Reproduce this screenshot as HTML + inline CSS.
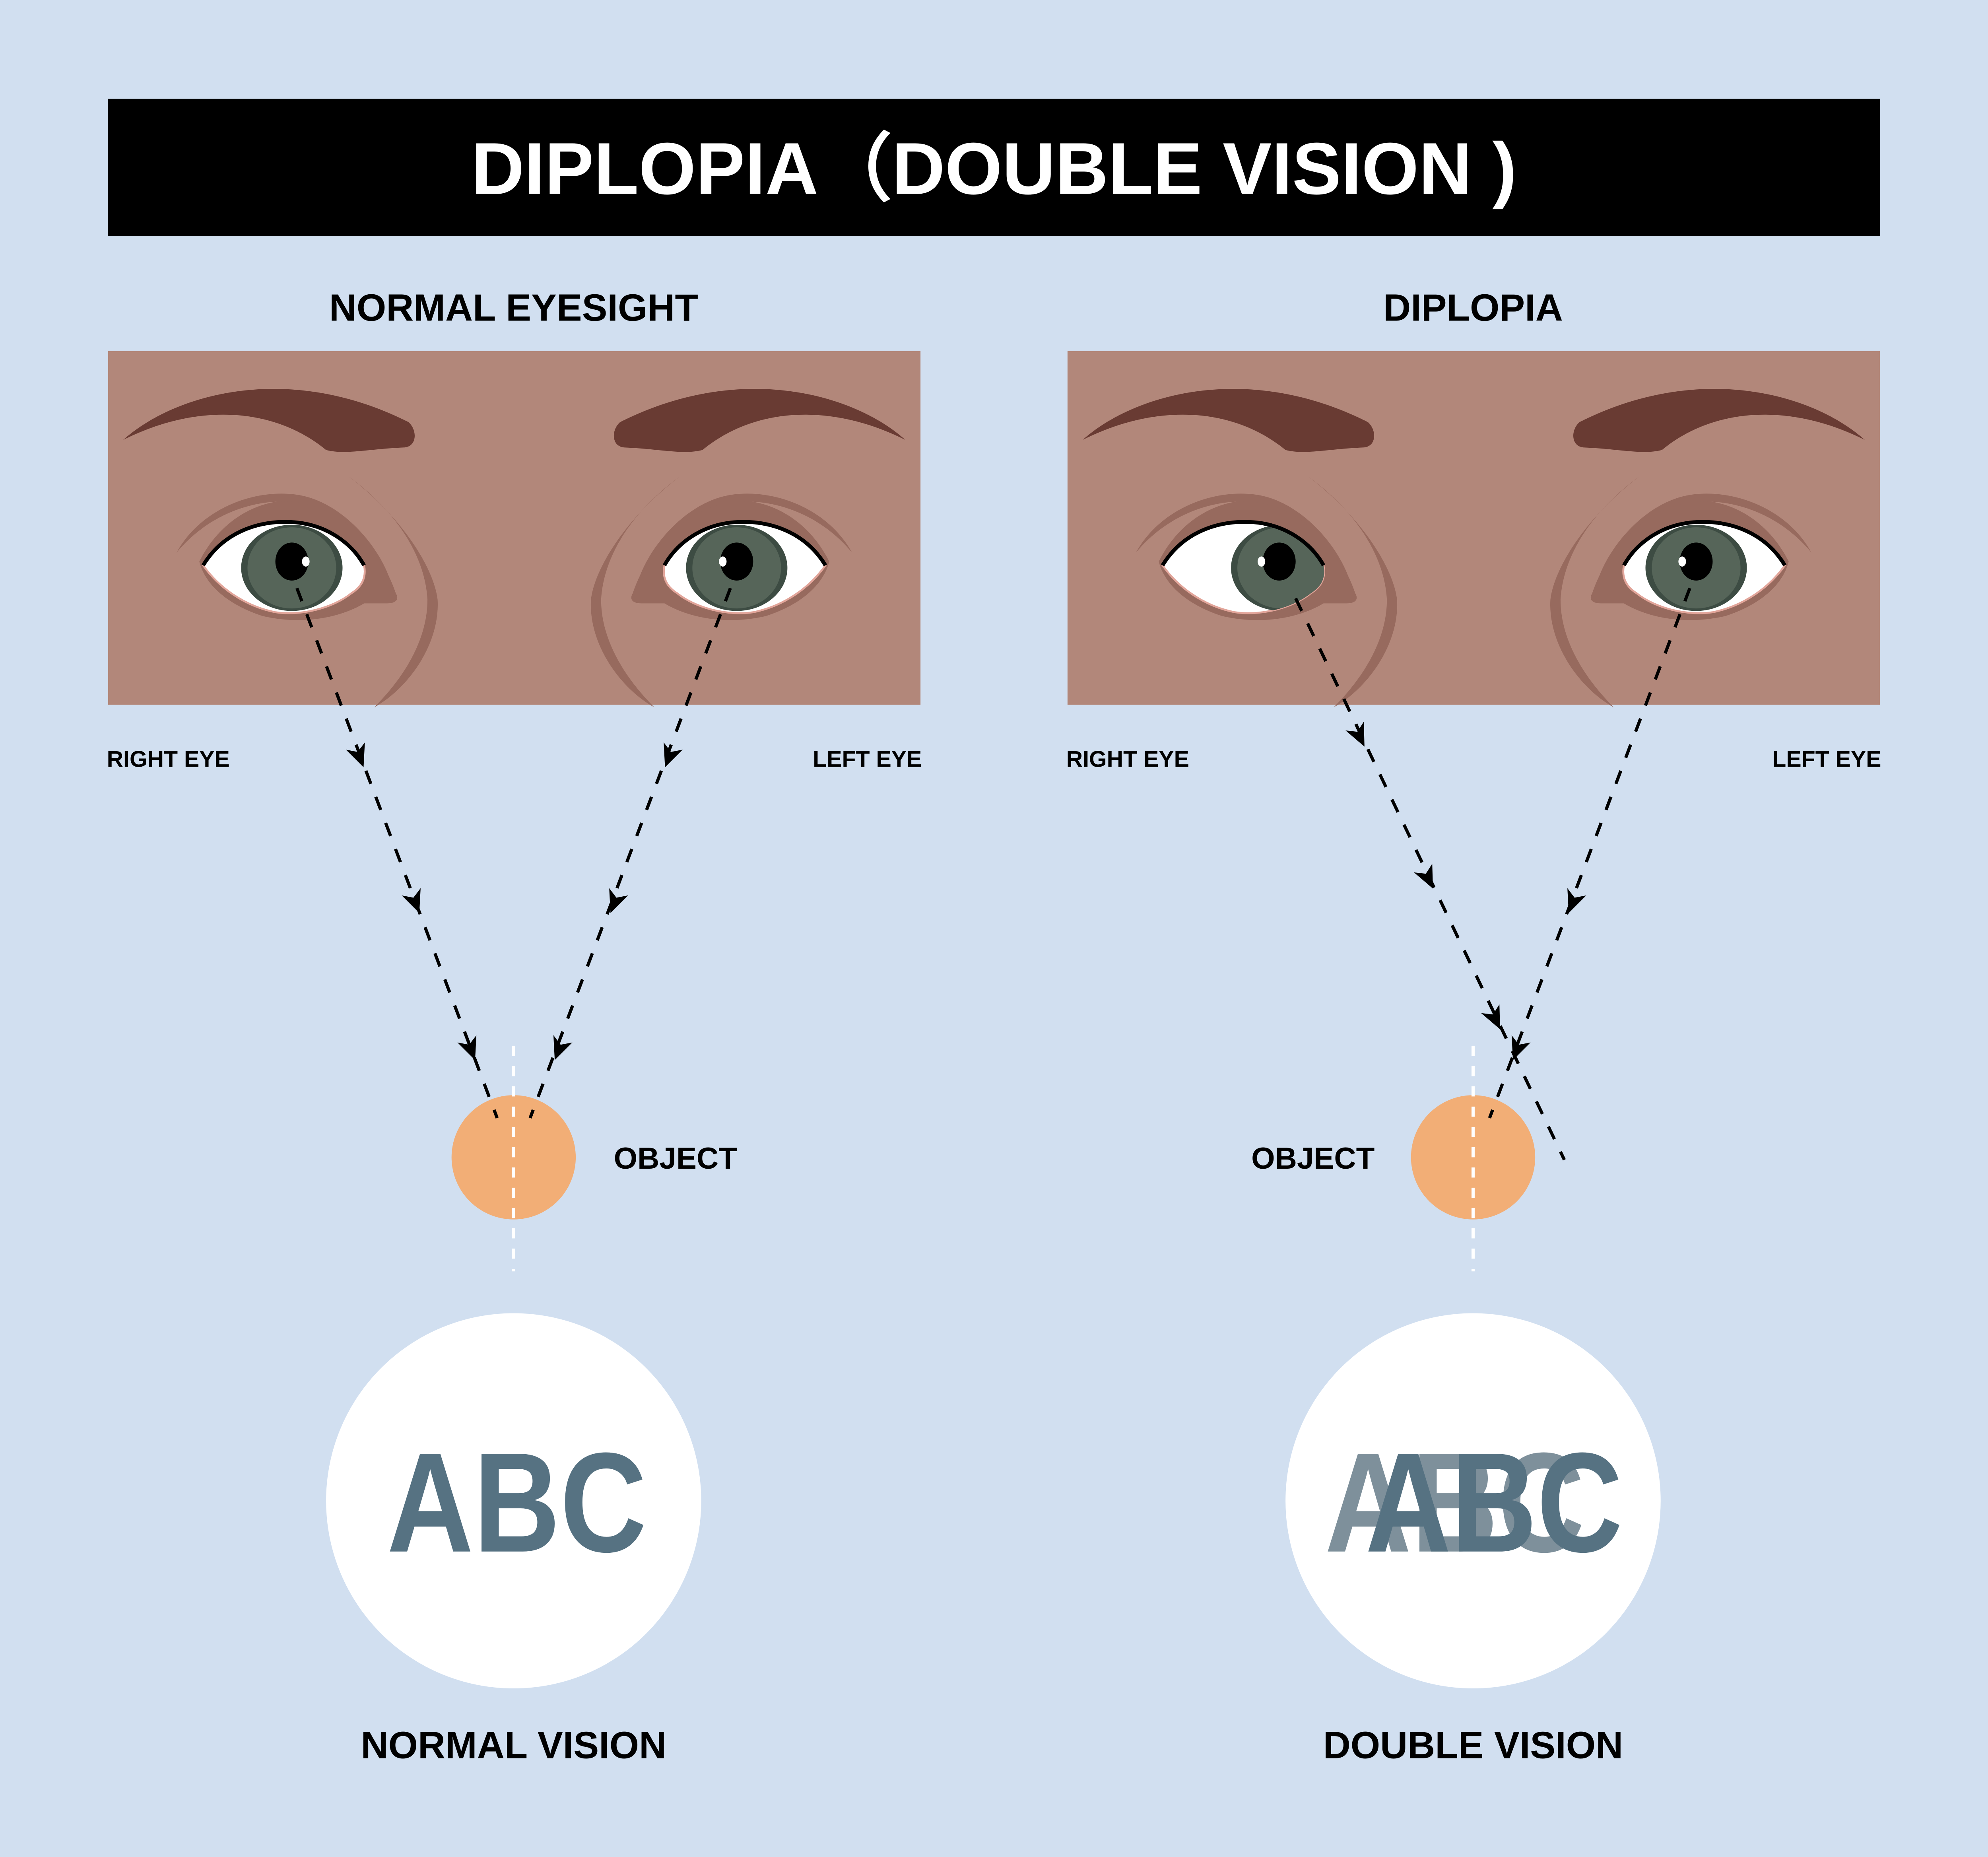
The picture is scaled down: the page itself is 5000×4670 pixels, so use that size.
<!DOCTYPE html>
<html><head><meta charset="utf-8"><style>
html,body{margin:0;padding:0;background:#d1dff0}
svg{display:block}
text{font-family:"Liberation Sans",sans-serif;font-weight:bold}
</style></head><body>
<svg width="5000" height="4670" viewBox="0 0 1568 1465" xmlns="http://www.w3.org/2000/svg">
<defs>
<g id="brow">
<path d="M0,0 C40,-36 130,-62 225,-14 C232,-8 232,5 222,6 C195,7 175,12 160,8 C120,-25 60,-30 0,0 Z" fill="#693b33"/>
</g>
<g id="eyeR">
<path d="M-70,-5 C-50,-45 -10,-60 20,-50 C50,-40 75,-10 85,20 C88,25 85,28 78,28 L60,28 C40,40 10,45 -20,38 C-45,30 -65,15 -70,-5 Z" fill="#976a5e"/>
<path d="M-88,-12 C-70,-45 -30,-62 5,-58 C40,-54 70,-20 80,8 C65,-22 40,-48 5,-52 C-30,-55 -65,-40 -88,-12 Z" fill="#976a5e"/>
<path d="M48,-72 C90,-40 115,0 118,25 C120,60 95,95 68,110 C90,88 110,58 110,25 C108,-10 85,-45 48,-72 Z" fill="#976a5e"/>
<clipPath id="al"><path d="M-67,-2 C-50,-30 -20,-38 5,-36 C30,-34 50,-20 60,-2 C62,8 58,15 50,20 C35,32 10,38 -10,35 C-35,30 -55,15 -67,-2 Z"/></clipPath>
<path d="M-67,-2 C-50,-30 -20,-38 5,-36 C30,-34 50,-20 60,-2 C62,8 58,15 50,20 C35,32 10,38 -10,35 C-35,30 -55,15 -67,-2 Z" fill="#fff" stroke="#e2a59a" stroke-width="1.5"/>
</g>
</defs>
<rect width="1568" height="1465" fill="#d1dff0"/>
<rect x="85" y="78" width="1398" height="108" fill="#000"/>
<text x="784" y="153" font-size="58" fill="#fff" text-anchor="middle">DIPLOPIA（DOUBLE VISION )</text>
<text x="405" y="253" font-size="30" text-anchor="middle">NORMAL EYESIGHT</text>
<text x="1162" y="253" font-size="30" text-anchor="middle">DIPLOPIA</text>

<g>
<rect x="85" y="277" width="641" height="279" fill="#b2877a"/>
<use href="#brow" transform="translate(97,347)"/>
<use href="#brow" transform="translate(714,347) scale(-1,1)"/>
</g>
<g transform="translate(757,0)">
<rect x="85" y="277" width="641" height="279" fill="#b2877a"/>
<use href="#brow" transform="translate(97,347)"/>
<use href="#brow" transform="translate(714,347) scale(-1,1)"/>
</g>

<g transform="translate(227,448)">
<use href="#eyeR"/>
<g clip-path="url(#al)"><ellipse cx="3" cy="0" rx="40" ry="34" fill="#3d4c43"/><ellipse cx="3" cy="0" rx="35" ry="32" fill="#566559"/></g>
<ellipse cx="3" cy="-5" rx="13" ry="15" fill="#000"/><ellipse cx="14" cy="-5" rx="3" ry="4" fill="#fff"/>
<path d="M-67,-2 C-50,-30 -20,-38 5,-36 C30,-34 50,-20 60,-2" fill="none" stroke="#000" stroke-width="3"/>
</g>
<g transform="translate(584,448) scale(-1,1)">
<use href="#eyeR"/>
<g clip-path="url(#al)"><ellipse cx="3" cy="0" rx="40" ry="34" fill="#3d4c43"/><ellipse cx="3" cy="0" rx="35" ry="32" fill="#566559"/></g>
<ellipse cx="3" cy="-5" rx="13" ry="15" fill="#000"/><ellipse cx="14" cy="-5" rx="3" ry="4" fill="#fff"/>
<path d="M-67,-2 C-50,-30 -20,-38 5,-36 C30,-34 50,-20 60,-2" fill="none" stroke="#000" stroke-width="3"/>
</g>
<g transform="translate(984,448)">
<use href="#eyeR"/>
<g clip-path="url(#al)"><ellipse cx="27" cy="0" rx="40" ry="34" fill="#3d4c43"/><ellipse cx="27" cy="0" rx="35" ry="32" fill="#566559"/></g>
<ellipse cx="25" cy="-5" rx="13" ry="15" fill="#000"/><ellipse cx="11" cy="-5" rx="3" ry="4" fill="#fff"/>
<path d="M-67,-2 C-50,-30 -20,-38 5,-36 C30,-34 50,-20 60,-2" fill="none" stroke="#000" stroke-width="3"/>
</g>
<g transform="translate(1341,448) scale(-1,1)">
<use href="#eyeR"/>
<g clip-path="url(#al)"><ellipse cx="3" cy="0" rx="40" ry="34" fill="#3d4c43"/><ellipse cx="3" cy="0" rx="35" ry="32" fill="#566559"/></g>
<ellipse cx="3" cy="-5" rx="13" ry="15" fill="#000"/><ellipse cx="14" cy="-5" rx="3" ry="4" fill="#fff"/>
<path d="M-67,-2 C-50,-30 -20,-38 5,-36 C30,-34 50,-20 60,-2" fill="none" stroke="#000" stroke-width="3"/>
</g>

<g font-size="18">
<text x="84" y="605">RIGHT EYE</text>
<text x="727" y="605" text-anchor="end">LEFT EYE</text>
<text x="841" y="605">RIGHT EYE</text>
<text x="1484" y="605" text-anchor="end">LEFT EYE</text>
</g>

<circle cx="405" cy="913" r="49" fill="#f2ae76"/>
<circle cx="1162" cy="913" r="49" fill="#f2ae76"/>
<line x1="405" y1="825" x2="405" y2="1003" stroke="#fff" stroke-width="2.5" stroke-dasharray="8,8"/>
<line x1="1162" y1="825" x2="1162" y2="1003" stroke="#fff" stroke-width="2.5" stroke-dasharray="8,8"/>
<text x="484" y="922" font-size="24">OBJECT</text>
<text x="987" y="922" font-size="24">OBJECT</text>

<g stroke="#000" stroke-width="2.5" stroke-dasharray="11,11" fill="none">
<line x1="234" y1="464" x2="392" y2="882"/>
<line x1="576" y1="464" x2="418" y2="882"/>
<line x1="1022" y1="472" x2="1234" y2="915"/>
<line x1="1333" y1="464" x2="1175" y2="882"/>
</g>
<g fill="#000">
<path d="M0,10 L-8,-8 L0,-3 L8,-8 Z" transform="translate(283,596) rotate(-21)"/>
<path d="M0,10 L-8,-8 L0,-3 L8,-8 Z" transform="translate(327,711) rotate(-21)"/>
<path d="M0,10 L-8,-8 L0,-3 L8,-8 Z" transform="translate(371,827) rotate(-21)"/>
<path d="M0,10 L-8,-8 L0,-3 L8,-8 Z" transform="translate(528,596) rotate(21)"/>
<path d="M0,10 L-8,-8 L0,-3 L8,-8 Z" transform="translate(485,711) rotate(21)"/>
<path d="M0,10 L-8,-8 L0,-3 L8,-8 Z" transform="translate(441,827) rotate(21)"/>
<path d="M0,10 L-8,-8 L0,-3 L8,-8 Z" transform="translate(1072,580) rotate(-25.5)"/>
<path d="M0,10 L-8,-8 L0,-3 L8,-8 Z" transform="translate(1126,692) rotate(-25.5)"/>
<path d="M0,10 L-8,-8 L0,-3 L8,-8 Z" transform="translate(1179,803) rotate(-25.5)"/>
<path d="M0,10 L-8,-8 L0,-3 L8,-8 Z" transform="translate(1241,711) rotate(21)"/>
<path d="M0,10 L-8,-8 L0,-3 L8,-8 Z" transform="translate(1197,827) rotate(21)"/>
</g>

<circle cx="405" cy="1184" r="148" fill="#fff"/>
<circle cx="1162" cy="1184" r="148" fill="#fff"/>
<text x="305" y="1224" font-size="112" fill="#567282" textLength="205" lengthAdjust="spacingAndGlyphs">ABC</text>
<text x="1045" y="1224" font-size="112" fill="#7e909b" textLength="205" lengthAdjust="spacingAndGlyphs">ABC</text>
<text x="1077" y="1224" font-size="112" fill="#567282" textLength="203" lengthAdjust="spacingAndGlyphs">ABC</text>

<text x="405" y="1387" font-size="30" text-anchor="middle">NORMAL VISION</text>
<text x="1162" y="1387" font-size="30" text-anchor="middle">DOUBLE VISION</text>
</svg>
</body></html>
